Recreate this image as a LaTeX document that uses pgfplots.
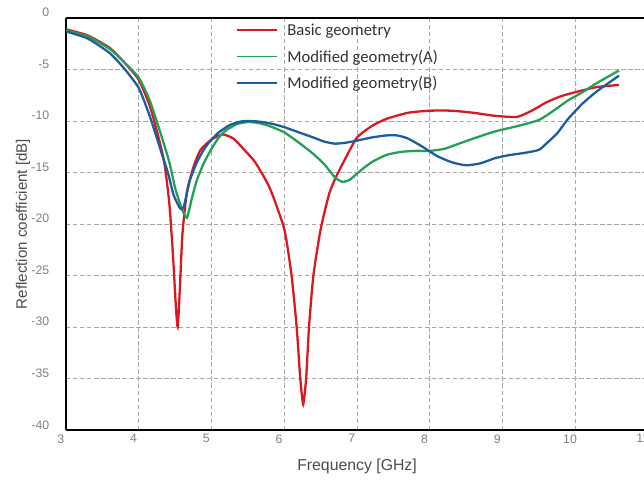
\documentclass[border=0pt]{standalone}
\usepackage{pgfplots}
\pgfplotsset{compat=1.18}
\usepackage{fontspec}
\setmainfont{Liberation Sans}
\newfontfamily\legfont{Carlito}
\definecolor{cred}{RGB}{218,24,32}
\definecolor{cgreen}{RGB}{34,160,84}
\definecolor{cblue}{RGB}{30,92,160}
\begin{document}
\begin{tikzpicture}
\begin{axis}[
  scale only axis,
  width=11.64cm, height=8.24cm,
  xmin=3, xmax=11, ymin=-40, ymax=0,
  xtick={3,4,...,11}, ytick={-40,-35,...,0},
  major tick length=0pt,
  grid=major,
  grid style={gray!70, dash pattern=on 2.5pt off 1.5pt, line width=0.5pt},
  axis line style={black, line width=1pt},
  axis x line*=bottom, axis y line*=left,
  tick label style={font=\fontsize{7}{8}\selectfont, text=gray},
  /pgf/number format/assume math mode=true,
  xticklabel style={yshift=1pt, xshift=-3pt},
  yticklabel style={xshift=-6pt, yshift=3pt},
  xlabel={Frequency [GHz]},
  ylabel={Reflection coefficient [dB]},
  label style={text=black!70},
  xlabel style={font=\fontsize{9}{10}\selectfont, yshift=-2pt},
  ylabel style={font=\fontsize{8.6}{10}\selectfont, yshift=-6pt},
  legend style={draw=none, fill=none, at={(rel axis cs:0.282,1.003)}, anchor=north west,
     font=\legfont\fontsize{9.5}{11}\selectfont, row sep=2.7pt, text=black!80},
  legend cell align=left,
  legend image code/.code={\draw[#1, line width=1pt] (0cm,0.02cm) -- (0.8cm,0.02cm); \path (0.92cm,0cm);},
]
\addplot[cred, line width=1.3pt, smooth, tension=0.35] coordinates {
(3,-1.1)(3.3,-1.7)(3.6,-2.9)(3.8,-4.3)(4.0,-6.0)(4.15,-8.5)(4.25,-11)(4.35,-14)(4.42,-18)(4.47,-23)(4.51,-28)(4.535,-30)(4.56,-27)(4.6,-21)(4.66,-17)(4.75,-14.5)(4.85,-12.8)(5.0,-11.8)(5.15,-11.3)(5.3,-11.7)(5.45,-12.8)(5.6,-14)(5.8,-16.5)(6.0,-20.5)(6.1,-25)(6.17,-30)(6.22,-35)(6.26,-37.5)(6.3,-35)(6.34,-30)(6.4,-25)(6.5,-20.5)(6.62,-17)(6.72,-15.3)(6.85,-13.5)(7.0,-11.6)(7.2,-10.5)(7.4,-9.8)(7.7,-9.2)(8.0,-9.0)(8.3,-9.0)(8.6,-9.2)(8.9,-9.5)(9.2,-9.6)(9.4,-9.0)(9.6,-8.2)(9.8,-7.6)(10.0,-7.2)(10.3,-6.7)(10.6,-6.5)
};
\addlegendentry{Basic geometry}
\addplot[cgreen, line width=1.3pt, smooth, tension=0.35] coordinates {
(3,-1.2)(3.3,-1.8)(3.6,-3.0)(3.8,-4.3)(4.0,-5.8)(4.15,-8)(4.3,-11.2)(4.42,-14)(4.5,-16.5)(4.58,-18.3)(4.66,-19.4)(4.73,-17.5)(4.8,-15.7)(4.9,-14)(5.0,-12.7)(5.1,-11.6)(5.2,-10.9)(5.35,-10.3)(5.5,-10.1)(5.65,-10.2)(5.8,-10.5)(6.0,-11.1)(6.2,-12.1)(6.4,-13.2)(6.55,-14.2)(6.7,-15.5)(6.8,-15.9)(6.9,-15.7)(7.05,-14.8)(7.2,-14.0)(7.4,-13.3)(7.6,-13.0)(7.8,-12.9)(8.0,-12.9)(8.2,-12.7)(8.4,-12.2)(8.6,-11.7)(8.9,-11.0)(9.2,-10.5)(9.5,-9.9)(9.7,-9.0)(9.9,-8.0)(10.1,-7.2)(10.3,-6.3)(10.6,-5.1)
};
\addlegendentry{Modified geometry(A)}
\addplot[cblue, line width=1.3pt, smooth, tension=0.35] coordinates {
(3,-1.3)(3.3,-2.0)(3.6,-3.4)(3.8,-4.9)(4.0,-6.8)(4.15,-9.5)(4.3,-12.8)(4.4,-15)(4.48,-17.2)(4.57,-18.5)(4.62,-18.3)(4.7,-15.8)(4.8,-14.0)(4.9,-12.7)(5.0,-11.8)(5.1,-11.1)(5.25,-10.4)(5.4,-10.05)(5.55,-10.0)(5.7,-10.1)(5.85,-10.3)(6.0,-10.6)(6.2,-11.1)(6.4,-11.6)(6.55,-12.0)(6.7,-12.2)(6.85,-12.1)(7.0,-11.9)(7.2,-11.6)(7.4,-11.4)(7.55,-11.4)(7.7,-11.7)(7.9,-12.5)(8.1,-13.4)(8.3,-14.0)(8.5,-14.3)(8.7,-14.1)(8.9,-13.6)(9.1,-13.3)(9.3,-13.1)(9.5,-12.8)(9.6,-12.2)(9.75,-11.2)(9.9,-9.8)(10.1,-8.3)(10.3,-7.1)(10.6,-5.6)
};
\addlegendentry{Modified geometry(B)}
\draw[black, line width=1pt] (rel axis cs:0,1) -- (rel axis cs:1,1);
\coordinate (sw) at (rel axis cs:0,0);
\coordinate (ne) at (rel axis cs:0.993,1);
\end{axis}
\pgfresetboundingbox
\path[use as bounding box] ([xshift=-1.32cm, yshift=-1.08cm]sw) rectangle ([yshift=0.36cm]ne);
\end{tikzpicture}
\end{document}
